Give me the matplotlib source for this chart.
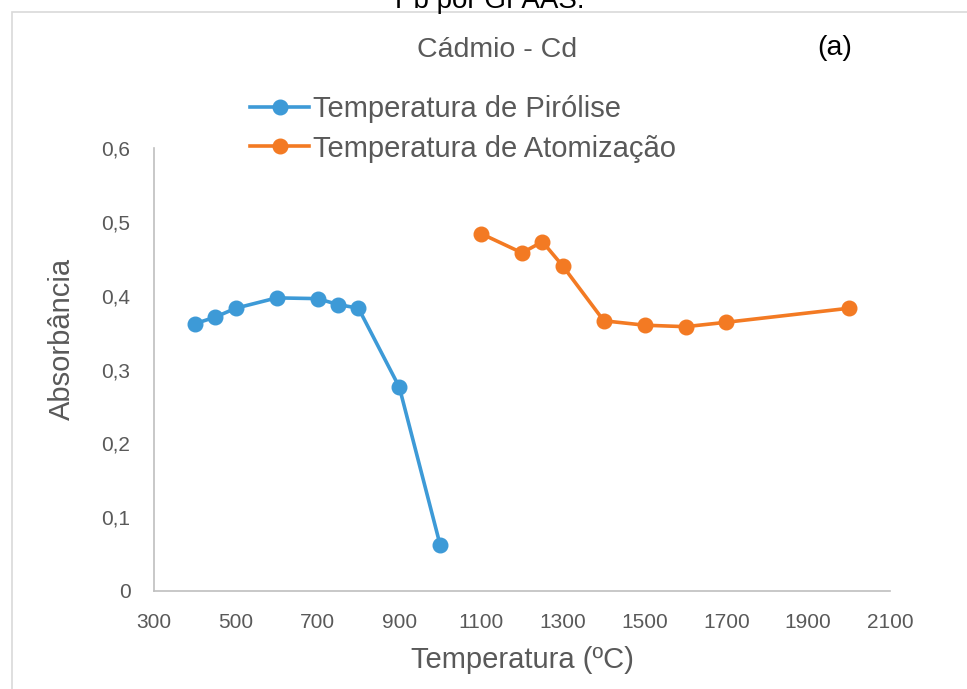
import matplotlib.pyplot as plt
from matplotlib.patches import Rectangle
from matplotlib.ticker import FuncFormatter

# data
pir_temp = [400, 450, 500, 600, 700, 750, 800, 900, 1000]
pir_abs = [0.362, 0.371, 0.383, 0.397, 0.396, 0.388, 0.383, 0.276, 0.062]

atom_temp = [1100, 1200, 1250, 1300, 1400, 1500, 1600, 1700, 2000]
atom_abs = [0.484, 0.458, 0.473, 0.440, 0.366, 0.360, 0.358, 0.364, 0.383]

xticks = [300, 500, 700, 900, 1100, 1300, 1500, 1700, 1900, 2100]
yticks = [0, 0.1, 0.2, 0.3, 0.4, 0.5, 0.6]

blue = "#3D9AD7"
orange = "#F37A23"
grey = "#595959"

plt.rcParams['font.family'] = ['Liberation Sans', 'DejaVu Sans']

fig = plt.figure(figsize=(9.67, 6.89), dpi=100)
ax = fig.add_axes([154/967, 1-591/689, (890-154)/967, (591-148)/689])

ax.plot(pir_temp, pir_abs, '-o', color=blue, lw=2.6, ms=10.5, label="Temperatura de Pirólise")
ax.plot(atom_temp, atom_abs, '-o', color=orange, lw=2.6, ms=10.5, label="Temperatura de Atomização")

ax.set_xlim(300, 2100)
ax.set_ylim(0, 0.6)
ax.set_xticks(xticks)
ax.set_yticks(yticks)
ax.yaxis.set_major_formatter(FuncFormatter(lambda v, p: "0" if v == 0 else ("%.1f" % v).replace(".", ",")))

for s in ["top", "right"]:
    ax.spines[s].set_visible(False)
for s in ["left", "bottom"]:
    ax.spines[s].set_color("#BFBFBF")
    ax.spines[s].set_linewidth(1.2)
ax.tick_params(length=0, labelsize=15, colors=grey, pad=17)
ax.tick_params(axis='x', pad=16)

ax.set_xlabel("Temperatura (ºC)", fontsize=21, color=grey, labelpad=10)
ax.set_ylabel("Absorbância", fontsize=21, color=grey)
ax.yaxis.set_label_coords(-0.106, (591-339)/(591-148))

leg = ax.legend(loc="upper left", bbox_to_anchor=(230/967, 1-75/689), bbox_transform=fig.transFigure,
                frameon=False, fontsize=21, handlelength=2.0, handletextpad=0.15, labelspacing=0.38,
                labelcolor=grey, borderpad=0.2)

fig.text(497/967, 1-50/689, "Cádmio - Cd", fontsize=20.5, color=grey, ha="center", va="center")
fig.text(835/967, 1-48/689, "(a)", fontsize=20.5, color="black", ha="center", va="center")
fig.text(490/967, 1-1/689, "Pb por GFAAS.", fontsize=20, color="black", ha="center", va="center")

fig.add_artist(Rectangle((12/967, -0.05), 1.2, 1-12/689+0.05, transform=fig.transFigure,
                         fill=False, edgecolor="#D9D9D9", lw=1.2))

plt.savefig("out.png", dpi=100)
